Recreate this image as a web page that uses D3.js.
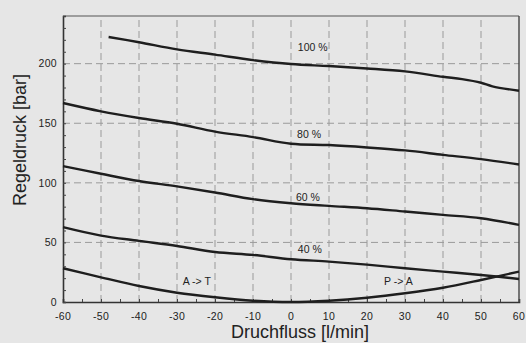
<!DOCTYPE html>
<html>
<head>
<meta charset="utf-8">
<script src="https://cdn.jsdelivr.net/npm/d3@7"></script>
<style>
  html, body { margin: 0; padding: 0; background: #e6e6e6; }
  svg { display: block; }
  text { font-family: "Liberation Sans", Arial, Helvetica, sans-serif; fill: #222; }
</style>
</head>
<body>
<script>
// Flow values (l/min) at which the pressure curves are sampled
const flow = [-60, -50, -40, -30, -20, -10, 0, 10, 20, 30, 40, 50, 60];
// The 100 % curve starts further right and bends near the end
const flow100 = [-48, -40, -30, -20, -10, 0, 10, 20, 30, 40, 45, 50, 53, 60];
const p100 = [222.4, 218, 212, 207.6, 203, 199.7, 198, 196, 193.5, 189, 187, 184, 181, 177.3];
const p80 = [167, 160, 154.4, 149.6, 143, 138.4, 132.8, 131.7, 129.7, 127.2, 123.5, 119.9, 115.4];
const p60 = [114, 107.6, 101.5, 97, 91.9, 86.3, 82.9, 80.7, 78.7, 75.9, 73.1, 70.3, 64.7];
const p40 = [62.8, 55.7, 51.3, 47, 42, 39.5, 35.9, 33.9, 31.4, 28.3, 25.5, 22.7, 19.3];
// Zero-command curve: A -> T on the left, P -> A on the right
const p0 = [28.3, 20.7, 13.4, 7.8, 4.0, 1.1, 0, 1.1, 3.6, 7.3, 12, 18.5, 25.5];

const xTicks = [-60, -50, -40, -30, -20, -10, 0, 10, 20, 30, 40, 50, 60];
const yTicks = [0, 50, 100, 150, 200];

const curveLabels = ["100 %", "80 %", "60 %", "40 %"];
const dirLabels = ["A -> T", "P -> A"];

const W = 526, H = 343;
const m = { left: 63, right: 7, top: 16, bottom: 41 };

const svg = d3.select("body").append("svg").attr("width", W).attr("height", H);
svg.append("rect").attr("width", W).attr("height", H).attr("fill", "#e6e6e6");

const x = d3.scaleLinear().domain([-60, 60]).range([m.left, W - m.right]);
const y = d3.scaleLinear().domain([0, 240]).range([H - m.bottom, m.top]);

const g = svg.append("g");

// Dashed grid
g.selectAll("line.vg").data(xTicks.filter(d => d > -60 && d < 60)).join("line")
  .attr("x1", d => x(d)).attr("x2", d => x(d))
  .attr("y1", y(0)).attr("y2", y(240))
  .attr("stroke", "#9a9a9a").attr("stroke-width", 1).attr("stroke-dasharray", "7,4");
g.selectAll("line.hg").data(yTicks.filter(d => d > 0)).join("line")
  .attr("x1", x(-60)).attr("x2", x(60))
  .attr("y1", d => y(d)).attr("y2", d => y(d))
  .attr("stroke", "#9a9a9a").attr("stroke-width", 1).attr("stroke-dasharray", "7,4");

// Frame: top and right edges
g.append("line").attr("x1", x(-60)).attr("x2", x(60)).attr("y1", y(240)).attr("y2", y(240))
  .attr("stroke", "#555").attr("stroke-width", 1.2);
g.append("line").attr("x1", x(60)).attr("x2", x(60)).attr("y1", y(240)).attr("y2", y(0))
  .attr("stroke", "#444").attr("stroke-width", 1.4);

// Axes with inward minor ticks
const xAxis = d3.axisBottom(x).tickValues(d3.range(-60, 61, 5)).tickSize(-3).tickFormat("");
const yAxis = d3.axisLeft(y).tickValues(d3.range(0, 241, 10)).tickSize(-3).tickFormat("");

const gx = svg.append("g").attr("transform", `translate(0,${y(0)})`).call(xAxis);
const gy = svg.append("g").attr("transform", `translate(${x(-60)},0)`).call(yAxis);
[gx, gy].forEach(a => {
  a.select(".domain").attr("stroke", "#333").attr("stroke-width", 1.6);
  a.selectAll(".tick line").attr("stroke", "#444").attr("stroke-width", 1);
});

// Tick labels
svg.append("g").selectAll("text").data(xTicks).join("text")
  .attr("x", d => x(d)).attr("y", 320)
  .attr("text-anchor", "middle").attr("font-size", 10.5).attr("letter-spacing", 0.3)
  .text(d => d);
svg.append("g").selectAll("text").data(yTicks).join("text")
  .attr("x", 57).attr("y", d => y(d) + 3.8)
  .attr("text-anchor", "end").attr("font-size", 10.5).attr("letter-spacing", 0.3)
  .text(d => d);

// Axis titles
svg.append("text").attr("x", 300).attr("y", 338)
  .attr("text-anchor", "middle").attr("font-size", 18).text("Druchfluss [l/min]");
svg.append("text").attr("transform", "translate(26,140) rotate(-90)")
  .attr("text-anchor", "middle").attr("font-size", 18).text("Regeldruck [bar]");

// Pressure curves
const line = d3.line().x(d => x(d[0])).y(d => y(d[1])).curve(d3.curveCatmullRom.alpha(0.5));
const series = [
  d3.zip(flow100, p100),
  d3.zip(flow, p80),
  d3.zip(flow, p60),
  d3.zip(flow, p40),
  d3.zip(flow, p0)
];
svg.append("g").selectAll("path").data(series).join("path")
  .attr("d", line).attr("fill", "none")
  .attr("stroke", "#1e1e1e").attr("stroke-width", 2.4).attr("stroke-linejoin", "round");

// Curve labels
const labelPos = [[1.8, 210.5], [1.6, 137.5], [1.3, 85], [1.8, 41.5]];
svg.append("g").selectAll("text").data(curveLabels).join("text")
  .attr("x", (d, i) => x(labelPos[i][0])).attr("y", (d, i) => y(labelPos[i][1]))
  .attr("font-size", 10.5).text(d => d);
const dirPos = [[-28.5, 14], [24.5, 14]];
svg.append("g").selectAll("text").data(dirLabels).join("text")
  .attr("x", (d, i) => x(dirPos[i][0])).attr("y", (d, i) => y(dirPos[i][1]))
  .attr("font-size", 10.5).text(d => d);
</script>
</body>
</html>
